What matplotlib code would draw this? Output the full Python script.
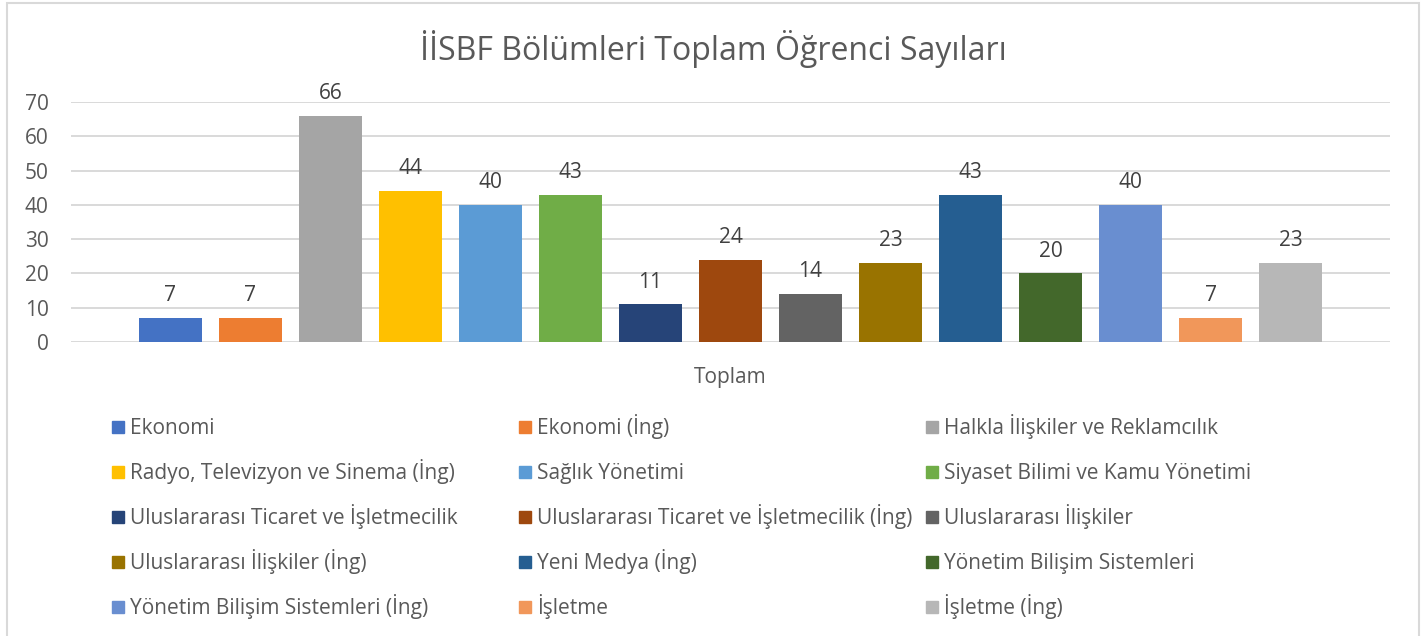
import matplotlib
matplotlib.use("Agg")
import matplotlib.pyplot as plt
from matplotlib.patches import Rectangle
import numpy as np

plt.rcParams["font.family"] = ["Open Sans", "DejaVu Sans"]

# chart data
departments = [
    "Ekonomi",
    "Ekonomi (İng)",
    "Halkla İlişkiler ve Reklamcılık",
    "Radyo, Televizyon ve Sinema (İng)",
    "Sağlık Yönetimi",
    "Siyaset Bilimi ve Kamu Yönetimi",
    "Uluslararası Ticaret ve İşletmecilik",
    "Uluslararası Ticaret ve İşletmecilik (İng)",
    "Uluslararası İlişkiler",
    "Uluslararası İlişkiler (İng)",
    "Yeni Medya (İng)",
    "Yönetim Bilişim Sistemleri",
    "Yönetim Bilişim Sistemleri (İng)",
    "İşletme",
    "İşletme (İng)",
]
students = [7, 7, 66, 44, 40, 43, 11, 24, 14, 23, 43, 20, 40, 7, 23]
category = "Toplam"
y_ticks = [0, 10, 20, 30, 40, 50, 60, 70]

colors = [
    "#4472C4", "#ED7D31", "#A5A5A5", "#FFC000", "#5B9BD5",
    "#70AD47", "#264478", "#9E480E", "#636363", "#997300",
    "#255E91", "#43682B", "#698ED0", "#F1975A", "#B7B7B7",
]

W, H = 1424, 636
FS = 15

fig = plt.figure(figsize=(W / 100, H / 100), dpi=100)

# chart frame, drawn in pixel coordinates
frame = fig.add_axes([0, 0, 1, 1])
frame.set_xlim(0, W)
frame.set_ylim(H, 0)
frame.axis("off")
frame.plot([7, 7, 1419, 1419], [H + 5, 3, 3, H + 5], color="#D9D9D9", lw=1.5,
           solid_joinstyle="miter")

# plot area (pixel box 71..1390 x 102..342)
ax = fig.add_axes([71 / W, 1 - 342 / H, (1390 - 71) / W, (342 - 102) / H])
x = np.arange(len(students))
ax.bar(x, students, width=0.79, color=colors, zorder=3)
for xi, v in zip(x, students):
    ax.annotate(str(v), (xi, v), xytext=(0, 12), textcoords="offset points",
                ha="center", va="baseline", fontsize=FS, color="#404040",
                annotation_clip=False)

ax.set_xlim(-1.24, 15.24)
ax.set_ylim(0, 70)
ax.set_yticks(y_ticks)
ax.set_xticks([(len(students) - 1) / 2])
ax.set_xticklabels([category])
ax.yaxis.grid(True, color="#D9D9D9", lw=1.4, zorder=0)
ax.tick_params(axis="y", length=0, pad=16, labelsize=FS, labelcolor="#595959")
ax.tick_params(axis="x", length=0, pad=18, labelsize=FS, labelcolor="#595959")
for s in ax.spines.values():
    s.set_visible(False)

frame.text(713, 60, "İİSBF Bölümleri Toplam Öğrenci Sayıları", ha="center",
           va="baseline", fontsize=23, color="#595959")

# legend, three columns in row order
for i, (name, c) in enumerate(zip(departments, colors)):
    row, col = divmod(i, 3)
    lx = 112 + 407 * col
    base = 434 + 45 * row
    frame.add_patch(Rectangle((lx, base - 13), 12, 12, color=c))
    frame.text(lx + 18, base, name, ha="left", va="baseline", fontsize=FS,
               color="#595959")

fig.savefig("out.png", dpi=100, facecolor="white")
